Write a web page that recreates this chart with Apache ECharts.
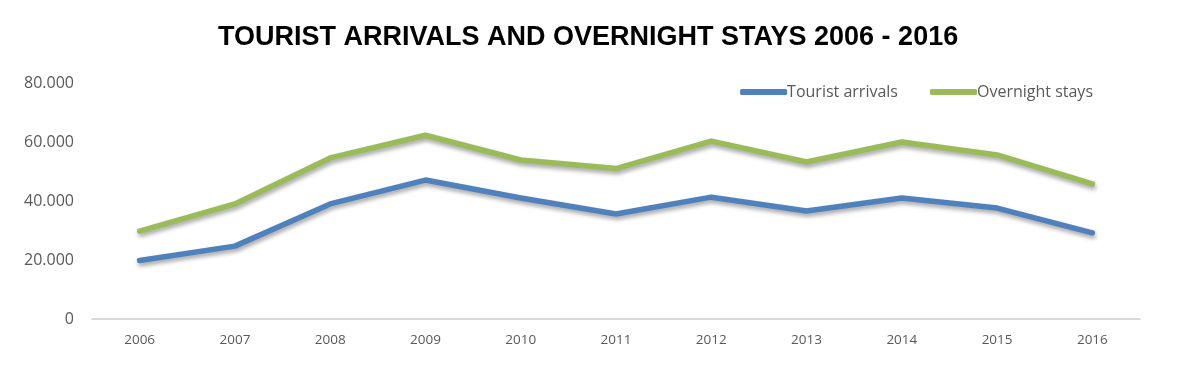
<!DOCTYPE html>
<html><head><meta charset="utf-8">
<script src="https://cdn.jsdelivr.net/npm/echarts@6/dist/echarts.min.js"></script>
<style>html,body{margin:0;padding:0;background:#fff}#c{width:1184px;height:372px}</style>
</head><body><div id="c"></div>
<script>
const years = ['2006','2007','2008','2009','2010','2011','2012','2013','2014','2015','2016'];
const touristArrivals = [19800, 24700, 39000, 47100, 41000, 35600, 41300, 36600, 41000, 37600, 29200];
const overnightStays = [29800, 39000, 54600, 62300, 53900, 51000, 60300, 53200, 60000, 55600, 45800];
const yTicks = [0, 20000, 40000, 60000, 80000];

const fmt = v => v === 0 ? '0' : String(v).replace(/\B(?=(\d{3})+(?!\d))/g, '.');
const chart = echarts.init(document.getElementById('c'));
const shadow = {shadowColor:'rgba(0,0,0,0.35)', shadowBlur:4, shadowOffsetX:1, shadowOffsetY:3};
chart.setOption({
  animation:false,
  backgroundColor:'#fff',
  title:{text:'TOURIST ARRIVALS AND OVERNIGHT STAYS 2006 - 2016', left:213, top:19,
    textStyle:{fontFamily:'"Liberation Sans",sans-serif', fontWeight:'bold', fontSize:27, color:'#000'}},
  legend:{top:79, right:86, itemWidth:47, itemHeight:6, itemGap:32, icon:'roundRect',
    textStyle:{fontFamily:'"Open Sans","Liberation Sans",sans-serif', fontSize:16, color:'#595959', padding:[0,0,0,-5]},
    data:['Tourist arrivals','Overnight stays']},
  grid:{left:92, right:44, top:83, bottom:53},
  xAxis:{type:'category', data:years, boundaryGap:true,
    axisLine:{lineStyle:{color:'#D9D9D9', width:2}}, axisTick:{show:false},
    axisLabel:{margin:14, color:'#595959', fontSize:13.5, fontFamily:'"Open Sans","Liberation Sans",sans-serif'}},
  yAxis:{type:'value', min:yTicks[0], max:yTicks[yTicks.length-1], interval:yTicks[1]-yTicks[0],
    splitLine:{show:false}, axisLine:{show:false}, axisTick:{show:false},
    axisLabel:{margin:18, color:'#595959', fontSize:16, fontFamily:'"Open Sans","Liberation Sans",sans-serif', formatter:fmt}},
  series:[
    {name:'Tourist arrivals', type:'line', data:touristArrivals, showSymbol:false, symbol:'none',
      itemStyle:{color:'#4F81BD'}, lineStyle:Object.assign({color:'#4F81BD', width:5.5, cap:'round', join:'round'}, shadow)},
    {name:'Overnight stays', type:'line', data:overnightStays, showSymbol:false, symbol:'none',
      itemStyle:{color:'#9BBB59'}, lineStyle:Object.assign({color:'#9BBB59', width:5.5, cap:'round', join:'round'}, shadow)}
  ]
});
</script></body></html>
